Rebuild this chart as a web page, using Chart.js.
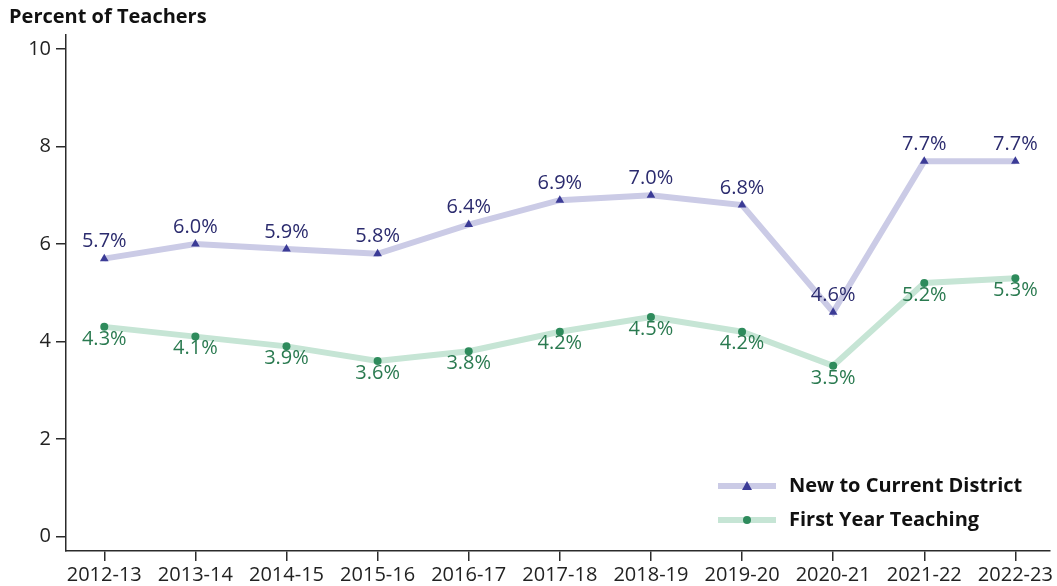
<!DOCTYPE html>
<html>
<head>
<meta charset="utf-8">
<script src="https://cdn.jsdelivr.net/npm/chart.js@4/dist/chart.umd.min.js"></script>
<style>
  html, body { margin: 0; padding: 0; background: #fff; }
  #wrap { width: 1057px; height: 586px; position: relative; }
</style>
</head>
<body>
<div id="wrap"><canvas id="teachers"></canvas></div>
<script>
const years = ['2012-13', '2013-14', '2014-15', '2015-16', '2016-17', '2017-18',
               '2018-19', '2019-20', '2020-21', '2021-22', '2022-23'];
const newToDistrict = [5.7, 6.0, 5.9, 5.8, 6.4, 6.9, 7.0, 6.8, 4.6, 7.7, 7.7];
const firstYear = [4.3, 4.1, 3.9, 3.6, 3.8, 4.2, 4.5, 4.2, 3.5, 5.2, 5.3];
const yTicks = [0, 2, 4, 6, 8, 10];

const FONT = "'Open Sans', 'Noto Sans', sans-serif";
const AXIS = '#2b2b2b';

const series = [
    { label: 'New to Current District', values: newToDistrict, line: '#cbcbe6', mark: '#3b3b96', text: '#2b2b6e', shape: 'triangle', labelDy: -17 },
    { label: 'First Year Teaching', values: firstYear, line: '#c6e5d5', mark: '#2e8b5c', text: '#2a7a50', shape: 'circle', labelDy: 12 },
];

// value labels above/below each point
const valueLabels = {
    id: 'valueLabels',
    afterDatasetsDraw(chart) {
        const ctx = chart.ctx;
        ctx.save();
        ctx.font = '20px ' + FONT;
        ctx.textAlign = 'center';
        ctx.textBaseline = 'middle';
        chart.data.datasets.forEach((ds, i) => {
            const meta = chart.getDatasetMeta(i);
            meta.data.forEach((pt, j) => {
                ctx.fillStyle = series[i].text;
                ctx.fillText(ds.data[j].y.toFixed(1) + '%', pt.x, pt.y + series[i].labelDy);
            });
        });
        ctx.restore();
    }
};

// axis title and the legend inside the plot
const extras = {
    id: 'extras',
    afterDraw(chart) {
        const ctx = chart.ctx;
        ctx.save();
        ctx.fillStyle = '#111';
        ctx.font = 'bold 20px ' + FONT;
        ctx.textAlign = 'left';
        ctx.textBaseline = 'middle';
        ctx.fillText('Percent of Teachers', 9, 17);

        series.forEach((s, i) => {
            const y = 486 + i * 34;
            ctx.strokeStyle = s.line;
            ctx.lineWidth = 6;
            ctx.beginPath();
            ctx.moveTo(718, y);
            ctx.lineTo(776, y);
            ctx.stroke();
            ctx.fillStyle = s.mark;
            ctx.beginPath();
            if (s.shape === 'triangle') {
                ctx.moveTo(747, y - 5);
                ctx.lineTo(752, y + 4);
                ctx.lineTo(742, y + 4);
                ctx.closePath();
            } else {
                ctx.arc(747, y, 4, 0, Math.PI * 2);
            }
            ctx.fill();
            ctx.fillStyle = '#111';
            ctx.font = 'bold 20px ' + FONT;
            ctx.fillText(s.label, 789, y);
        });
        ctx.restore();
    }
};

new Chart(document.getElementById('teachers'), {
    type: 'line',
    data: {
        datasets: series.map(s => ({
            label: s.label,
            data: s.values.map((v, i) => ({ x: i, y: v })),
            borderColor: s.line,
            borderWidth: 6,
            pointStyle: s.shape,
            pointRadius: s.shape === 'triangle' ? 5 : 4,
            pointBackgroundColor: s.mark,
            pointBorderColor: s.mark,
            pointBorderWidth: 0,
            tension: 0,
        }))
    },
    options: {
        responsive: true,
        maintainAspectRatio: false,
        animation: false,
        layout: { padding: { top: 35, right: 7, left: 0, bottom: 0 } },
        plugins: {
            legend: { display: false },
            tooltip: { enabled: false },
        },
        scales: {
            x: {
                type: 'linear',
                min: -0.42,
                max: 10.38,
                afterBuildTicks(scale) {
                    scale.ticks = years.map((_, i) => ({ value: i }));
                },
                afterFit(scale) { scale.height = 35; },
                ticks: {
                    callback: v => years[v],
                    color: '#222',
                    font: { family: FONT, size: 20 },
                    padding: 2,
                    maxRotation: 0,
                    autoSkip: false,
                },
                grid: { drawOnChartArea: false, drawTicks: true, tickLength: 10, color: AXIS, lineWidth: 1.5 },
                border: { display: true, color: AXIS, width: 1.5 },
            },
            y: {
                min: -0.3,
                max: 10.29,
                afterBuildTicks(scale) {
                    scale.ticks = yTicks.map(v => ({ value: v }));
                },
                afterFit(scale) { scale.width = 66; },
                ticks: {
                    color: '#222',
                    font: { family: FONT, size: 20 },
                    padding: 5,
                },
                grid: { drawOnChartArea: false, drawTicks: true, tickLength: 10, color: AXIS, lineWidth: 1.5 },
                border: { display: true, color: AXIS, width: 1.5 },
            },
        },
    },
    plugins: [valueLabels, extras],
});
</script>
</body>
</html>
